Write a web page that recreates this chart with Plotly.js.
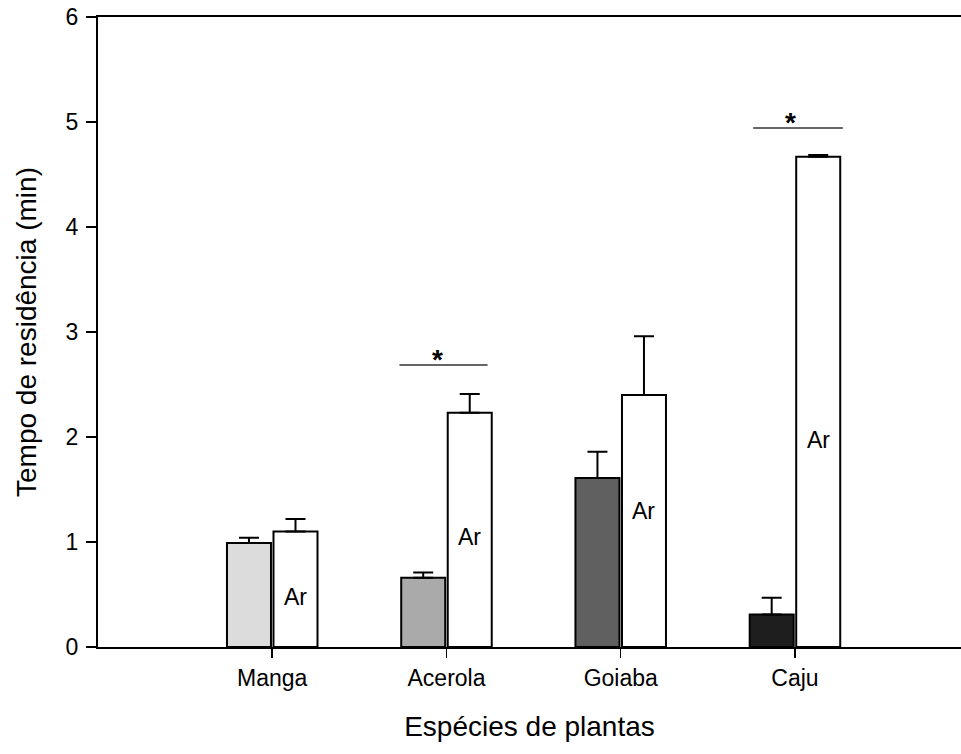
<!DOCTYPE html>
<html>
<head>
<meta charset="utf-8">
<script src="https://cdn.plot.ly/plotly-3.0.1.min.js"></script>
<style>html,body{margin:0;padding:0;background:#fff;}#chart{width:961px;height:754px;}</style>
</head>
<body>
<div id="chart"></div>
<script>
// Data
const categories = ["Manga", "Acerola", "Goiaba", "Caju"];
const plantValues = [0.99, 0.66, 1.61, 0.31];
const plantErrors = [0.05, 0.05, 0.25, 0.16];
const plantColors = ["#dcdcdc", "#aaaaaa", "#606060", "#1e1e1e"];
const arValues = [1.10, 2.23, 2.40, 4.67];
const arErrors = [0.12, 0.18, 0.56, 0.015];
const arLabel = "Ar";
const arLabelY = [0.48, 1.05, 1.30, 1.97];
const yTicks = [0, 1, 2, 3, 4, 5, 6];
// significance markers (category index, line span relative to category, height)
const sigCats = [1, 3];
const sigLeft = [-0.27, -0.24];
const sigRight = [0.236, 0.275];
const sigY = [2.686, 4.943];
const sigStarDx = [-0.054, -0.023];

const catIdx = categories.map((c, i) => i);
const arOffset = 0.1334;

const traces = [
  {
    type: "bar", x: catIdx, y: plantValues,
    marker: {color: plantColors, line: {color: "#000", width: 2}},
    error_y: {type: "data", array: plantErrors, arrayminus: plantErrors.map(() => 0), symmetric: false,
              color: "#000", thickness: 2, width: 10},
    hoverinfo: "none", showlegend: false
  },
  {
    type: "bar", x: catIdx, y: arValues,
    marker: {color: "#ffffff", line: {color: "#000", width: 2}},
    error_y: {type: "data", array: arErrors, arrayminus: arErrors.map(() => 0), symmetric: false,
              color: "#000", thickness: 2, width: 10},
    hoverinfo: "none", showlegend: false
  }
];

const annotations = [];
catIdx.forEach((i) => {
  annotations.push({
    x: i + arOffset, y: arLabelY[i], xref: "x", yref: "y", text: arLabel, showarrow: false,
    font: {family: "Arial, 'Liberation Sans', sans-serif", size: 23, color: "#000"},
    xanchor: "center", yanchor: "middle"
  });
});
const shapes = [];
sigCats.forEach((c, k) => {
  shapes.push({type: "line", xref: "x", yref: "y", x0: c + sigLeft[k], x1: c + sigRight[k],
               y0: sigY[k], y1: sigY[k], line: {color: "#333", width: 1.6}});
  annotations.push({
    x: c + sigStarDx[k], y: sigY[k], xref: "x", yref: "y", text: "<b>*</b>", showarrow: false,
    font: {family: "Arial, 'Liberation Sans', sans-serif", size: 28, color: "#000"},
    xanchor: "center", yanchor: "bottom", yshift: -12
  });
});

const layout = {
  width: 961, height: 754,
  margin: {l: 98, r: 0, t: 17, b: 107},
  paper_bgcolor: "#fff", plot_bgcolor: "#fff",
  barmode: "group", bargap: 0.466, bargroupgap: 0.054,
  font: {family: "Arial, 'Liberation Sans', sans-serif", color: "#000"},
  xaxis: {
    range: [-1, 3.953], tickmode: "array", tickvals: catIdx, ticktext: categories,
    showgrid: false, zeroline: false, showline: true, linecolor: "#000", linewidth: 2, mirror: true,
    ticks: "outside", ticklen: 9, tickwidth: 1.5, tickcolor: "#000",
    tickfont: {size: 23, color: "#000"},
    title: {text: "Espécies de plantas", font: {size: 28, color: "#000"}, standoff: 27}
  },
  yaxis: {
    range: [0, 6], tickmode: "array", tickvals: yTicks, ticktext: yTicks.map(String),
    showgrid: false, zeroline: false, showline: true, linecolor: "#000", linewidth: 2, mirror: false,
    ticks: "outside", ticklen: 10, tickwidth: 1.5, tickcolor: "#000",
    tickfont: {size: 23, color: "#000"}, ticklabelstandoff: 3,
    title: {text: "Tempo de residência (min)", font: {size: 28, color: "#000"}, standoff: 21}
  },
  annotations: annotations,
  shapes: shapes
};

Plotly.newPlot("chart", traces, layout, {displayModeBar: false, staticPlot: true});
</script>
</body>
</html>
